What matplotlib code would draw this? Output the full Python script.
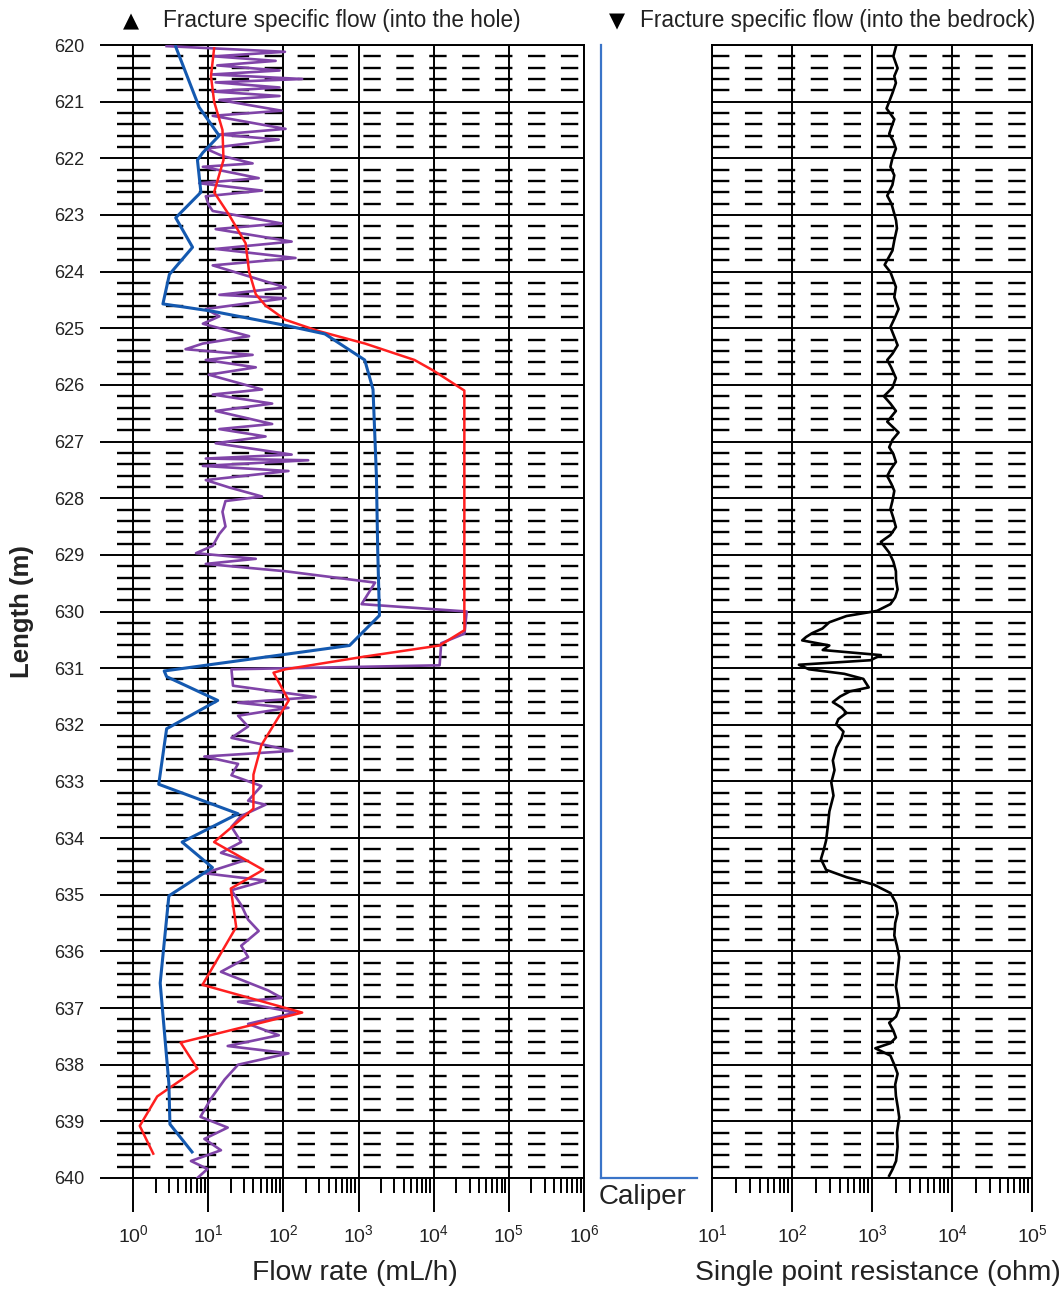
import numpy as np
import matplotlib
matplotlib.use("Agg")
import matplotlib.pyplot as plt
from matplotlib.ticker import LogLocator, MultipleLocator, NullFormatter, LogFormatterSciNotation

plt.rcParams['font.family'] = ['Liberation Sans', 'DejaVu Sans']
plt.rcParams['lines.scale_dashes'] = False
plt.rcParams['mathtext.fontset'] = 'custom'
plt.rcParams['mathtext.rm'] = 'Liberation Sans'
plt.rcParams['text.color'] = '#222222'
plt.rcParams['xtick.labelcolor'] = '#222222'
plt.rcParams['ytick.labelcolor'] = '#222222'

# ---- flow logging data (depth in m, flow in mL/h) ----
blue_depth = [620.03, 621.10, 621.60, 621.90, 622.03, 622.60, 623.05, 623.57, 624.05, 624.57,
              624.70, 624.95, 625.10, 625.56, 626.08, 627.60, 628.90, 630.07, 630.60, 631.05,
              631.15, 631.57, 632.07, 633.05, 633.57, 634.07, 634.52, 635.02, 636.56, 638.33,
              639.05, 639.54]
blue_flow = [3.7, 7.6, 14, 8.5, 7.2, 8.0, 3.7, 6.2, 3.05, 2.5,
             11.4, 107, 357, 1210, 1560, 1730, 1800, 1900, 760, 2.6,
             2.8, 13.4, 2.8, 2.2, 25, 4.5, 11.4, 3.0, 2.3, 3.0,
             3.1, 6.1]

red_depth = [620.06, 620.55, 621.00, 621.50, 622.03, 622.60, 623.00, 623.50, 624.00, 624.40,
             624.60, 624.85, 625.05, 625.27, 625.56, 625.75, 626.10, 630.00, 630.33, 630.60,
             630.80, 631.02, 631.08, 631.57, 632.36, 632.88, 633.48, 634.07, 634.56, 634.89,
             635.57, 636.59, 637.08, 637.61, 638.07, 638.56, 639.08, 639.57]
red_flow = [12, 10.9, 12, 15.5, 16, 12, 19, 31.5, 35, 43,
            58, 106, 295, 1220, 5560, 10000, 25600, 25600, 25700, 12000,
            1150, 107, 74, 118, 51, 40, 40, 12, 54, 20,
            23.6, 8.4, 178, 4.3, 7.2, 2.1, 1.23, 1.86]

purple_depth = [620.02, 620.12, 620.20, 620.28, 620.36, 620.45, 620.52, 620.60, 620.66, 620.75,
                620.82, 620.90, 620.97, 621.16, 621.25, 621.48, 621.58, 621.67, 621.83, 621.96,
                622.09, 622.15, 622.35, 622.44, 622.57, 622.67, 622.83, 622.93, 623.15, 623.25,
                623.47, 623.60, 623.76, 623.89, 624.28, 624.41, 624.47, 624.66, 624.79, 624.92,
                625.14, 625.27, 625.37, 625.47, 625.56, 625.69, 625.82, 625.92, 626.08, 626.17,
                626.33, 626.46, 626.69, 626.78, 626.91, 627.03, 627.23, 627.30, 627.33, 627.43,
                627.52, 627.68, 627.81, 627.97, 628.05, 628.24, 628.50, 628.63, 628.84, 628.97,
                629.07, 629.16, 629.29, 629.49, 629.87, 630.00, 630.39, 630.56, 630.95, 631.02,
                631.31, 631.51, 631.61, 631.70, 631.84, 632.03, 632.23, 632.46, 632.56, 632.69,
                632.89, 633.08, 633.34, 633.41, 633.61, 633.80, 634.07, 634.26, 634.39, 634.62,
                634.75, 634.92, 635.18, 635.44, 635.64, 635.90, 636.10, 636.36, 636.69, 636.82,
                636.89, 637.08, 637.28, 637.48, 637.67, 637.80, 638.00, 638.26, 638.59, 638.92,
                639.11, 639.31, 639.51, 639.70, 639.84, 640.00]
purple_flow = [2.8, 105, 12, 79, 13.2, 89, 11.2, 178, 12.6, 89,
               11.2, 89, 14.1, 95, 11.5, 107, 14.1, 87, 9.3, 15.5,
               39, 8.5, 47, 7.6, 52, 9.3, 10.2, 11.5, 95, 12.6,
               129, 12.6, 145, 11.5, 107, 14.1, 107, 9.3, 14.1, 8.5,
               35, 8.5, 5.0, 39, 9.3, 43, 10.2, 19, 52, 11.5,
               71, 12.6, 71, 14.1, 58, 12.6, 129, 9.3, 214, 8.5,
               117, 9.3, 19, 52, 17, 15.5, 17, 14.1, 11.5, 6.9,
               43, 9.3, 107, 1660, 1100, 27500, 25700, 12600, 12000, 20.4,
               21.4, 269, 25, 117, 25, 34, 20.4, 132, 8.9, 25,
               20.4, 51, 34, 58, 27.5, 20.4, 27.5, 14.8, 31, 8.9,
               58, 20.4, 27.5, 34, 47, 27.5, 34, 14.8, 63, 95,
               25, 145, 34, 87, 18.2, 117, 25, 16.6, 11, 7.9,
               18.2, 8.9, 14.8, 5.9, 9.8, 7.2]

# ---- single point resistance (depth in m, resistance in ohm) ----
spr_depth = [620.03, 620.20, 620.41, 620.55, 620.67, 620.85, 621.00, 621.12, 621.31, 621.45,
             621.57, 621.70, 621.83, 622.00, 622.15, 622.30, 622.47, 622.66, 622.80, 622.98,
             623.10, 623.24, 623.45, 623.63, 623.88, 624.01, 624.15, 624.27, 624.45, 624.66,
             624.80, 624.98, 625.15, 625.30, 625.45, 625.56, 625.70, 625.88, 626.05, 626.20,
             626.33, 626.46, 626.65, 626.84, 626.97, 627.10, 627.22, 627.36, 627.50, 627.61,
             627.75, 627.87, 628.05, 628.19, 628.35, 628.51, 628.65, 628.77, 628.96, 629.12,
             629.29, 629.45, 629.61, 629.75, 629.87, 629.99, 630.08, 630.19, 630.30, 630.38,
             630.45, 630.51, 630.60, 630.68, 630.77, 630.86, 630.94, 631.02, 631.10, 631.19,
             631.34, 631.41, 631.50, 631.60, 631.70, 631.79, 631.90, 631.99, 632.12, 632.24,
             632.40, 632.63, 632.80, 633.02, 633.25, 633.53, 633.80, 634.04, 634.20, 634.37,
             634.56, 634.69, 634.82, 634.97, 635.15, 635.33, 635.50, 635.72, 635.90, 636.10,
             636.35, 636.62, 636.80, 637.00, 637.15, 637.26, 637.40, 637.52, 637.62, 637.71,
             637.84, 638.00, 638.16, 638.35, 638.55, 638.75, 638.93, 639.20, 639.45, 639.70,
             639.85, 639.96]
spr_ohm = [1990, 1850, 2090, 1900, 1990, 1800, 1640, 1520, 1900, 1750,
           1640, 1850, 1990, 1800, 1700, 1900, 1800, 1550, 1750, 1900,
           2000, 2050, 1900, 1800, 1440, 1700, 1850, 1990, 1900, 2150,
           1950, 1700, 1900, 2090, 1800, 1550, 1750, 1990, 1800, 1410,
           1700, 1990, 1550, 2150, 1800, 1640, 1850, 1990, 1700, 1550,
           1750, 1900, 1800, 1700, 1850, 1990, 1700, 1290, 1640, 1850,
           1990, 2000, 2090, 1950, 1700, 1150, 480, 293, 240, 180,
           150, 134, 293, 242, 1290, 960, 122, 163, 450, 780,
           910, 530, 400, 324, 420, 480, 380, 357, 440, 415,
           360, 324, 340, 310, 330, 293, 280, 267, 250, 230,
           267, 480, 1050, 1700, 2000, 2090, 1950, 1900, 2050, 2190,
           2100, 1990, 2100, 2190, 2000, 1640, 1850, 1990, 1700, 1100,
           1700, 1900, 2090, 1950, 1990, 2100, 2190, 2050, 2090, 2000,
           1800, 1640]

# caliper trace (constant over the logged section)
caliper_depth = [620.0, 640.0]
caliper_mm = [76.0, 76.0]

flow_ticks = [1e0, 1e1, 1e2, 1e3, 1e4, 1e5, 1e6]
spr_ticks = [1e1, 1e2, 1e3, 1e4, 1e5]
depth_ticks = list(range(620, 641))

W, H = 1064, 1289
fig = plt.figure(figsize=(W / 100, H / 100), dpi=100)

def px_box(x0, x1, y_top, y_bot):
    return [x0 / W, 1 - y_bot / H, (x1 - x0) / W, (y_bot - y_top) / H]

ax_flow = fig.add_axes(px_box(133, 584, 45, 1178))
ax_spr = fig.add_axes(px_box(712, 1032, 45, 1178))
ax_cal = fig.add_axes(px_box(601, 697, 45, 1178))

GRID_LW = 1.4
dash_style = (0, (12.5, 11.2))

def style_log_track(ax, xlim, xticks, show_depth_labels):
    ax.set_xscale('log')
    ax.set_xlim(*xlim)
    ax.set_ylim(640, 620)
    ax.xaxis.set_major_locator(LogLocator(base=10, numticks=20))
    ax.xaxis.set_minor_locator(LogLocator(base=10, subs=np.arange(2, 10), numticks=20))
    ax.xaxis.set_minor_formatter(NullFormatter())
    ax.xaxis.set_major_formatter(LogFormatterSciNotation())
    ax.set_xticks(xticks)
    ax.yaxis.set_major_locator(MultipleLocator(1))
    ax.yaxis.set_minor_locator(MultipleLocator(0.2))
    ax.grid(True, which='major', axis='both', color='black', lw=GRID_LW)
    ax.yaxis.grid(True, which='minor', color='black', lw=GRID_LW + 0.3, linestyle=dash_style)
    ax.xaxis.grid(False, which='minor')
    for s in ax.spines.values():
        s.set_linewidth(GRID_LW)
        s.set_color('black')
    ax.tick_params(axis='x', which='major', direction='out', length=24.5, width=GRID_LW,
                   labelsize=14, pad=9)
    ax.tick_params(axis='x', which='minor', direction='out', length=11, width=GRID_LW)
    if show_depth_labels:
        ax.tick_params(axis='y', which='major', direction='out', length=24, width=GRID_LW,
                       labelsize=13, pad=11)
        ax.tick_params(axis='y', which='minor', direction='out', length=11.5, width=GRID_LW + 0.3)
        ax.set_yticks(depth_ticks)
        ax.set_yticklabels([str(d) for d in depth_ticks])
    else:
        ax.tick_params(axis='y', which='both', left=False, labelleft=False)

style_log_track(ax_flow, (1e0, 1e6), flow_ticks, True)
style_log_track(ax_spr, (1e1, 1e5), spr_ticks, False)

ax_flow.plot(purple_flow, purple_depth, color='#8044a8', lw=1.9, zorder=3)
ax_flow.plot(red_flow, red_depth, color='#ff1f1f', lw=1.8, zorder=4)
ax_flow.plot(blue_flow, blue_depth, color='#1459b0', lw=2.2, zorder=5)

ax_spr.plot(spr_ohm, spr_depth, color='black', lw=1.9, zorder=3)

# caliper track
ax_cal.set_xlim(76.0, 80.0)
ax_cal.set_ylim(640, 620)
for name, s in ax_cal.spines.items():
    s.set_visible(name == 'bottom')
ax_cal.spines['bottom'].set_color('#3a74c8')
ax_cal.spines['bottom'].set_linewidth(1.6)
ax_cal.set_xticks([])
ax_cal.set_yticks([])
ax_cal.patch.set_alpha(0)
ax_cal.plot(caliper_mm, caliper_depth, color='#3a74c8', lw=1.6, clip_on=False)

fig.text(599 / W, 1 - 1197 / H, 'Caliper', ha='left', va='center', fontsize=20)

fig.text(355 / W, 1 - 1273 / H, 'Flow rate (mL/h)', ha='center', va='center', fontsize=20.3)
fig.text(878 / W, 1 - 1273 / H, 'Single point resistance (ohm)', ha='center', va='center',
         fontsize=20.3)
fig.text(22 / W, 1 - 612 / H, 'Length (m)', rotation=90, ha='center', va='center',
         fontsize=18.5, fontweight='bold')

sym_family = ['DejaVu Sans']
fig.text(131 / W, 1 - 21 / H, '\u25b2', ha='center', va='center', fontsize=15, family=sym_family,
         color='black')
fig.text(163 / W, 1 - 21 / H, 'Fracture specific flow (into the hole)', ha='left',
         va='center', fontsize=16.3)
fig.text(617 / W, 1 - 21 / H, '\u25bc', ha='center', va='center', fontsize=15, family=sym_family,
         color='black')
fig.text(640 / W, 1 - 21 / H, 'Fracture specific flow (into the bedrock)', ha='left',
         va='center', fontsize=16.3)

fig.savefig('out.png', dpi=100)
